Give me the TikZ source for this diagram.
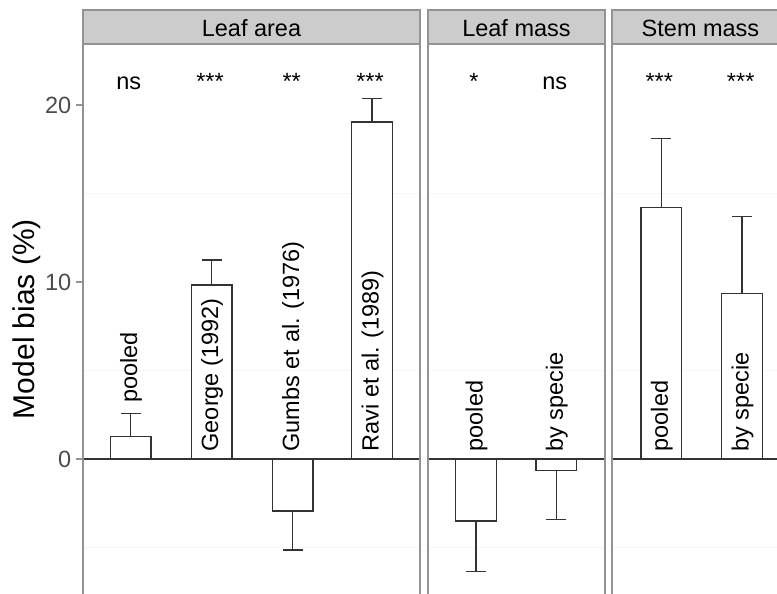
\documentclass[tikz,border=0pt]{standalone}
\usepackage{fontspec}
\setmainfont{Liberation Sans}
\usetikzlibrary{calc}
\usetikzlibrary{positioning}

\begin{document}
\begin{tikzpicture}[x=1pt, y=17.7pt,
  every node/.style={font=\fontsize{23.5}{28}\selectfont, inner sep=0pt},
  panelframe/.style={draw=gray!85, line width=1.5pt},
  stripbox/.style={draw=gray!85, fill=gray!40, line width=1.5pt},
  barbox/.style={draw=black!80, fill=white, line width=1.4pt},
  whisker/.style={draw=black!80, line width=1.4pt},
  gridline/.style={draw=gray!7, line width=1pt},
  zeroline/.style={draw=black!80, line width=1.5pt},
  ticklabel/.style={anchor=east, text=black!70},
  barlabel/.style={rotate=90, anchor=west},
  siglabel/.style={anchor=base}]

\useasboundingbox (0,-7.571) rectangle (777,25.932);
\clip (0,-7.571) rectangle (777,25.932);

% panels: left/right edges
\foreach \name/\xl/\xr/\title in {la/83/420/Leaf area, lm/428/605/Leaf mass, sm/612/789/Stem mass} {
   \path[draw=none] (\xl,23.446) rectangle (\xr,-8);
   \foreach \k in {-5, 5, 15} {
      \path[gridline] (\xl,\k) -- (\xr,\k);
   }
   \path[zeroline] (\xl,0) -- (\xr,0);
   \path[panelframe] (\xl,23.446) rectangle (\xr,-8);
   \path[stripbox] (\xl,25.367) rectangle (\xr,23.446);
   \node[anchor=base] (strip-\name) at ({(\xl+\xr)/2},23.87) {\title};
}

% y axis
\foreach \v in {0, 10, 20} {
   \path[draw=gray!85, line width=1.2pt] (76,\v) -- (83,\v);
   \node[ticklabel] (tick-\v) at (71.5,\v) {\v};
}
\node[rotate=90, font=\fontsize{30}{36}\selectfont] (ytitle) at (26.5,7.91) {Model bias (\%)};

% bars with error bars
\foreach \name/\cx/\val/\err/\lab/\ly in {
   lapo/130.5/1.26/2.58/pooled/3.16,
   lage/211.5/9.83/11.24/George (1992)/0.42,
   lagu/292.5/-2.94/-5.14/Gumbs et al. (1976)/0.42,
   lara/372/19.04/20.38/Ravi et al. (1989)/0.42,
   lmpo/476/-3.5/-6.36/pooled/0.42,
   lmbs/556.3/-0.66/-3.41/by specie/0.42,
   smpo/661.2/14.2/18.1/pooled/0.42,
   smbs/742/9.34/13.7/by specie/0.42} {
   \path[whisker] (\cx,\val) -- (\cx,\err) (\cx-10,\err) -- (\cx+10,\err);
   \path[barbox] (\cx-20.3,0) rectangle (\cx+20.3,\val);
   \node[barlabel] (lab-\name) at (\cx+0.5,\ly) {\lab};
}

% significance
\foreach \name/\cx/\sig in {lapo/128.7/ns, lage/210/***, lagu/291.7/**, lara/370/***,
   lmpo/474/*, lmbs/554.7/ns, smpo/659.3/***, smbs/740.7/***} {
   \node[siglabel] (sig-\name) at (\cx,20.89) {\sig};
}
\end{tikzpicture}
\end{document}
